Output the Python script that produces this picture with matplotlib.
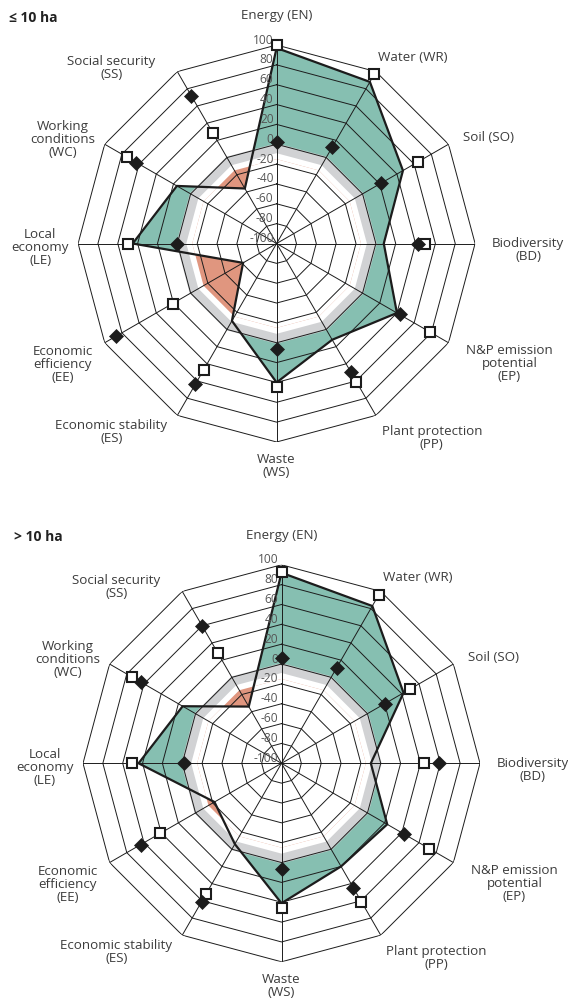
import numpy as np
import matplotlib
matplotlib.use("Agg")
import matplotlib.pyplot as plt

plt.rcParams['font.family'] = ['Open Sans', 'DejaVu Sans']

# ---------------- data ----------------
categories = ["Energy (EN)", "Water (WR)", "Soil (SO)", "Biodiversity\n(BD)",
              "N&P emission\npotential\n(EP)", "Plant protection\n(PP)", "Waste\n(WS)",
              "Economic stability\n(ES)", "Economic\nefficiency\n(EE)", "Local\neconomy\n(LE)",
              "Working\nconditions\n(WC)", "Social security\n(SS)"]
tick_values = [100, 80, 60, 40, 20, 0, -20, -40, -60, -80, -100]

titles = ["\u2264 10 ha", "> 10 ha"]

small_line = [97, 88, 47, 8, 40, 12, 40, -10, -61, 45, 16, -36]
small_squares = [100, 97, 64, 50, 78, 61, 45, 47, 21, 50, 74, 29]
small_diamonds = [2, 12, 21, 42, 43, 49, 6, 64, 87, 0, 63, 72]

large_line = [92, 83, 42, -10, 23, 20, 41, -6, -22, 44, 15, -34]
large_squares = [93, 96, 50, 44, 72, 61, 46, 52, 41, 51, 74, 28]
large_diamonds = [6, 11, 20, 59, 43, 45, 7, 61, 64, -2, 63, 60]

# reference bands (degree of sustainability zones)
grey_band = (-9, 1)
red_limit = -15

# ---------------- style ----------------
W, H = 568, 1006
DPI = 100
GREEN = "#86bfb1"
SALMON = "#e0967f"
GREY = "#d1d2d4"
INK = "#1c1c1c"
TXT = "#3c3c3c"
R_PX = 198.5

# label offsets (pixels, from the r=100 vertex of each axis)
label_offsets = [(0, 29), (37, 14), (40, 7), (53, -7), (61, -21), (56, -23),
                 (0, -24), (-66, -17), (-42, -22), (-38, -4), (-42, 5), (-66, 4)]

fig = plt.figure(figsize=(W / DPI, H / DPI), dpi=DPI)
fig.patch.set_facecolor("white")

n = len(categories)
theta = np.deg2rad(np.arange(n) * 360.0 / n)
theta_c = np.append(theta, theta[0])


def ring(v):
    return np.full(n + 1, v, dtype=float)


def closed(vals):
    vals = np.asarray(vals, dtype=float)
    return np.append(vals, vals[0])


def radar(center, line, squares, diamonds, title):
    cx, cy = center
    left = (cx - R_PX) / W
    bottom = (H - cy - R_PX) / H
    ax = fig.add_axes([left, bottom, 2 * R_PX / W, 2 * R_PX / H], projection="polar")
    ax.set_theta_zero_location("N")
    ax.set_theta_direction(-1)
    ax.set_ylim(-100, 100)
    ax.axis("off")

    # fills
    ax.fill(theta_c, closed(line), color=GREEN, lw=0, zorder=1)
    ax.fill(theta_c, ring(grey_band[1]), color=GREY, lw=0, zorder=2)
    ax.fill(theta_c, ring(grey_band[0]), color="white", lw=0, zorder=3)
    red = ax.fill(theta_c, ring(red_limit), color=SALMON, lw=0, zorder=4)[0]
    wp = ax.fill(theta_c, closed(line), color="white", lw=0, zorder=5)[0]
    wp.set_clip_path(red)

    # grid
    for v in tick_values[:-1]:
        ax.plot(theta_c, ring(v), color=INK, lw=0.7, zorder=6, solid_joinstyle="miter")
    for t in theta:
        ax.plot([t, t], [-100, 100], color=INK, lw=0.7, zorder=6)

    # data line
    ax.plot(theta_c, closed(line), color=INK, lw=1.6, zorder=7, solid_joinstyle="miter")

    # tick labels
    for v in tick_values:
        ax.annotate(str(v), xy=(0, v), xytext=(-3, 5), textcoords="offset pixels",
                    ha="right", va="center", fontsize=8.6, color="#555555", zorder=8)

    # markers
    ax.plot(theta, squares, ls="none", marker="s", ms=7.6, mfc="white", mec=INK,
            mew=1.5, zorder=9, clip_on=False)
    ax.plot(theta, diamonds, ls="none", marker="D", ms=7.4, mfc=INK, mec=INK,
            mew=0.5, zorder=10, clip_on=False)

    # category labels
    for t, lab, off in zip(theta, categories, label_offsets):
        ax.annotate(lab, xy=(t, 100), xytext=off, textcoords="offset pixels",
                    ha="center", va="center", fontsize=9.6, color=TXT,
                    linespacing=1.0, annotation_clip=False)

    # title
    fig.text((cx - 267.5) / W, 1 - (cy - 226) / H, title, fontsize=10,
             fontweight="bold", color="#222222", ha="left", va="center")
    return ax


radar((276.6, 243.5), small_line, small_squares, small_diamonds, titles[0])
radar((281.5, 763.3), large_line, large_squares, large_diamonds, titles[1])

fig.savefig("out.png", dpi=DPI, facecolor="white")
